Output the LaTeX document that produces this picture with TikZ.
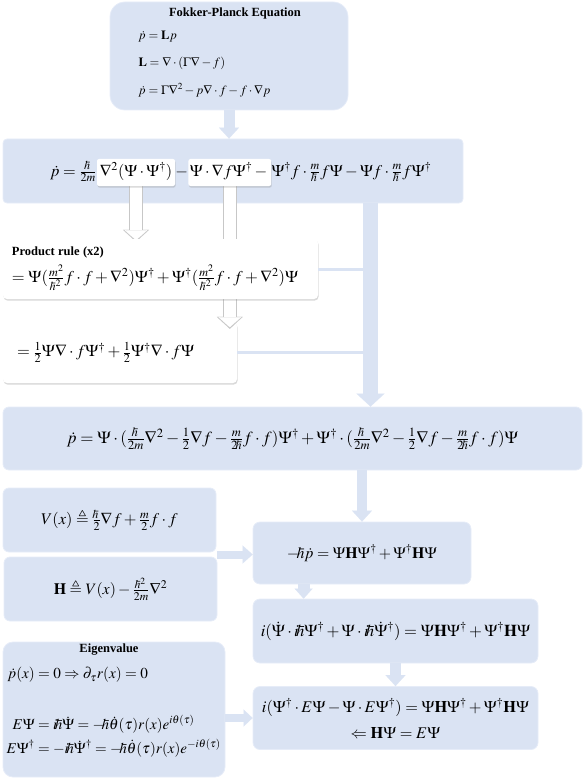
\documentclass[tikz,border=0pt]{standalone}
\usepackage{mathptmx}
\usepackage{amsmath,amssymb}
\usepackage[no-math]{fontspec}
\setmainfont{Liberation Serif}
\usetikzlibrary{arrows.meta,calc,shadows,positioning}

\definecolor{boxblue}{RGB}{218,227,243}
\definecolor{boxedge}{RGB}{230,236,248}
\newcommand{\eqfont}{\fontsize{16.5}{19}\selectfont}
\newcommand{\titlefont}{\fontsize{12.5}{15}\selectfont\bfseries}
\newcommand{\hbr}{{\mathchar'26\mkern-9mu h}}

\pgfdeclarelayer{back}
\pgfdeclarelayer{mid}
\pgfsetlayers{back,mid,main}

\tikzset{
	bluebox/.style={fill=boxblue, draw=boxedge, line width=0.8pt, rounded corners=#1, inner sep=0pt, font=\eqfont},
	bluebox/.default=6pt,
	whitebox/.style={fill=white, rounded corners=4pt, inner sep=0pt, drop shadow={shadow xshift=0.6pt, shadow yshift=-1.6pt, opacity=0.3}},
	hlbox/.style={whitebox, rounded corners=2pt, inner xsep=1.5pt, minimum width=78pt, minimum height=27pt, text height=12pt, text depth=5pt, font=\fontsize{16.3}{19}\selectfont},
	piece/.style={inner xsep=0pt, text height=12pt, text depth=5pt, font=\fontsize{16.3}{19}\selectfont},
	bluearrow/.style={draw=boxblue, line width=11pt, -{Triangle[length=11pt, width=20pt, line width=0.1pt]}},
	thinlink/.style={draw=boxblue, line width=3pt},
	grayarrow/.style={draw=black!22, line width=14pt, -{Triangle[length=12pt, width=26pt, line width=0.1pt]}},
	whitearrow/.style={draw=white, line width=12pt, -{Triangle[length=10pt, width=22.5pt, line width=0.1pt]}}
}

\begin{document}
\begin{tikzpicture}[x=1pt,y=-1pt]
\useasboundingbox (0,0) rectangle (584,778);

% Fokker-Planck box
\node[bluebox=15pt, minimum width=238pt, minimum height=108pt] (fp) at (229,56) {};
\node[font=\titlefont] (fpt) at (235,13) {Fokker-Planck Equation};
\node[anchor=west, align=left, font=\fontsize{12.6}{27.5}\selectfont] (fpeq) at (135,64) {$\dot p=\mathbf{L}p$\\ $\mathbf{L}=\nabla\cdot(\Gamma\nabla-f)$\\ $\dot p=\Gamma\nabla^2-p\nabla\cdot f-f\cdot\nabla p$};

% expanded equation, with the two highlighted terms
\begin{pgfonlayer}{back}
\node[bluebox=4pt, minimum width=460pt, minimum height=64pt] (eq2) at (233,171) {};
\node[whitebox, minimum width=234pt, minimum height=61pt, text width=206pt, align=left, font=\eqfont] (hf) at (120,352.5) {$=\frac12\Psi\nabla\cdot f\Psi^\dagger+\frac12\Psi^\dagger\nabla\cdot f\Psi$};
\end{pgfonlayer}
\node[hlbox] (hlA) at (136,172.5) {$\nabla^2(\Psi\cdot\Psi^\dagger)$};
\node[piece, anchor=east] (eqpre) at (hlA.west) {$\dot p=\frac{\hbr}{2m}$};
\node[piece, anchor=west] (eqmid) at (hlA.east) {$-$};
\node[hlbox, anchor=west] (hlB) at (eqmid.east) {$\Psi\cdot\nabla f\Psi^\dagger-{}$};
\node[piece, anchor=west] (eqpost) at (hlB.east) {$\Psi^\dagger f\cdot\frac{m}{\hbr}f\Psi-\Psi f\cdot\frac{m}{\hbr}f\Psi^\dagger$};

% product rule
\node[whitebox, minimum width=315pt, minimum height=60pt, text width=297pt, align=left] (pr) at (160.5,269) {{\titlefont Product rule (x2)}\\[6pt] {\eqfont $=\Psi(\frac{m^2}{\hbr^2}f\cdot f+\nabla^2)\Psi^\dagger+\Psi^\dagger(\frac{m^2}{\hbr^2}f\cdot f+\nabla^2)\Psi$}};

\begin{pgfonlayer}{mid}
\foreach \src/\dst/\dy in {hlA/pr/3pt, hlB/hf/7pt}{
	\draw[grayarrow] (\src.south) -- ([yshift=-\dy]\src.south |- \dst.north);
	\draw[whitearrow] (\src.south) -- ([yshift=-\dy+1.6pt]\src.south |- \dst.north);
}
\end{pgfonlayer}

% combined equation
\node[bluebox, font=\fontsize{17}{20}\selectfont] (eq4) at (292.5,438.5) [minimum width=579pt, minimum height=63pt] {$\dot p=\Psi\cdot(\frac{\hbr}{2m}\nabla^2-\frac12\nabla f-\frac{m}{2\hbr}f\cdot f)\Psi^\dagger+\Psi^\dagger\cdot(\frac{\hbr}{2m}\nabla^2-\frac12\nabla f-\frac{m}{2\hbr}f\cdot f)\Psi$};

\coordinate (barx) at (370.5,0);
\draw[bluearrow, line width=15pt, -{Triangle[length=13pt, width=28pt, line width=0.1pt]}] (eq2.south -| barx) -- (eq4.north -| barx);
\draw[thinlink] (pr.east) -- (pr.east -| barx);
\draw[thinlink] (hf.east) -- (hf.east -| barx);

% potential and Hamiltonian
\node[bluebox, minimum width=213pt, minimum height=64pt, font=\fontsize{16.3}{19}\selectfont] (vb) at (109.5,520) {$V(x)\triangleq\frac{\hbr}{2}\nabla f+\frac{m}{2}f\cdot f$};
\node[bluebox, minimum width=213pt, minimum height=64pt, font=\fontsize{15.9}{19}\selectfont] (hb) at (110.5,589) {$\mathbf{H}\triangleq V(x)-\frac{\hbr^2}{2m}\nabla^2$};

% right column
\node[bluebox=7pt, minimum width=218pt, minimum height=62pt, font=\fontsize{15.8}{19}\selectfont] (hp) at (362,553) {$-\hbr\dot p=\Psi\mathbf{H}\Psi^\dagger+\Psi^\dagger\mathbf{H}\Psi$};
\node[bluebox=7pt, minimum width=285pt, minimum height=64pt, font=\fontsize{16.6}{19}\selectfont] (ib) at (395.5,631) {$i(\dot\Psi\cdot i\hbr\Psi^\dagger+\Psi\cdot i\hbr\dot\Psi^\dagger)=\Psi\mathbf{H}\Psi^\dagger+\Psi^\dagger\mathbf{H}\Psi$};
\node[bluebox=7pt, minimum width=285pt, minimum height=63pt, align=center, font=\fontsize{16.3}{26}\selectfont] (lb) at (395.5,718) {$i(\Psi^\dagger\cdot E\Psi-\Psi\cdot E\Psi^\dagger)=\Psi\mathbf{H}\Psi^\dagger+\Psi^\dagger\mathbf{H}\Psi$\\ $\Leftarrow\mathbf{H}\Psi=E\Psi$};

% eigenvalue box
\node[bluebox=10pt, minimum width=222pt, minimum height=135pt] (eg) at (114,709.5) {};
\node[font=\titlefont] (egt) at (109,650) {Eigenvalue};
\node[anchor=west, font=\fontsize{15.2}{18}\selectfont] (egl) at (4,675) {$\dot p(x)=0\Rightarrow\partial_\tau r(x)=0$};
\node[anchor=west, font=\fontsize{15}{18}\selectfont] (egm) at (3,737) {$\begin{aligned}E\Psi&=i\hbr\dot\Psi=-\hbr\dot\theta(\tau)r(x)e^{i\theta(\tau)}\\ E\Psi^\dagger&=-i\hbr\dot\Psi^\dagger=-\hbr\dot\theta(\tau)r(x)e^{-i\theta(\tau)}\end{aligned}$};

% block arrows
\draw[bluearrow] (fp.south) -- (fp.south |- eq2.north);
\draw[bluearrow, line width=10pt] (eq4.south -| hp.north) -- (hp.north);
\coordinate (vhgap) at ($(vb.south east)!0.5!(hb.north east)$);
\draw[bluearrow, line width=8pt, -{Triangle[length=10pt, width=18pt, line width=0.1pt]}] (vhgap) -- (vhgap -| hp.west);
\draw[bluearrow, line width=12pt, -{Triangle[length=10pt, width=18pt, line width=0.1pt]}] ([xshift=51pt]hp.south west) -- ([xshift=51pt]hp.south west |- ib.north);
\draw[bluearrow] (ib.south) -- (lb.north);
\draw[bluearrow, line width=8pt, -{Triangle[length=9pt, width=17pt, line width=0.1pt]}] (eg.east |- lb.west) -- (lb.west);

\end{tikzpicture}
\end{document}
